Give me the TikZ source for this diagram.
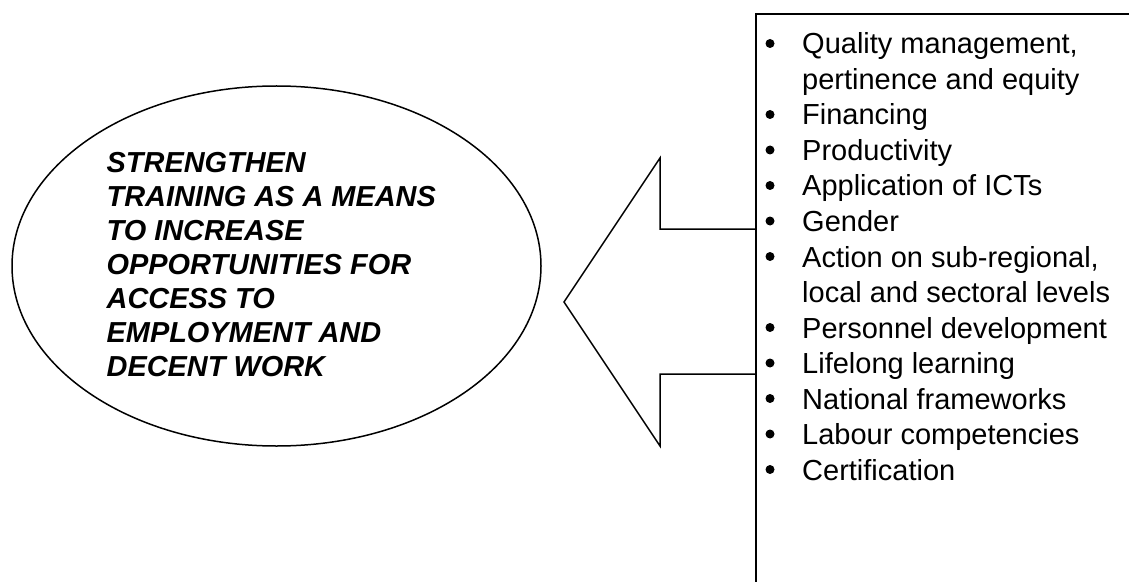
\documentclass[tikz,border=0pt]{standalone}
\usepackage{fontspec}
\setmainfont{Liberation Sans}
\usetikzlibrary{shapes.geometric}
\begin{document}
\begin{tikzpicture}[x=1pt,y=1pt,
  outline/.style={draw=black,line width=1.5pt,line join=miter},
  goaltext/.style={anchor=base west,inner sep=0pt,font=\fontsize{28.9}{34}\selectfont\bfseries\itshape},
  itemtext/.style={anchor=base west,inner sep=0pt,font=\fontsize{29}{35}\selectfont},
  bul/.style={circle,fill=black,inner sep=0pt,minimum size=9pt}]
\useasboundingbox (0,0) rectangle (1129,582);
% goal ellipse
\node[ellipse,outline,minimum width=529pt,minimum height=360pt,inner sep=0pt] (goal) at (276.5,316) {};
\foreach \t [count=\i] in {STRENGTHEN,TRAINING AS A MEANS,TO INCREASE,OPPORTUNITIES FOR,ACCESS TO,EMPLOYMENT AND,DECENT WORK}
  \node[goaltext] (g\i) at (106.5,{582-172.3-34.07*(\i-1)}) {\t};
% frame and arrow
\coordinate (ftop) at (756,568);
\coordinate (fbot) at (756,0);
\coordinate (fright) at (1129,568);
\coordinate (s1) at (756,353);
\coordinate (s2) at (660,353);
\coordinate (h1) at (660,424);
\coordinate (tip) at (564,280);
\coordinate (h2) at (660,136);
\coordinate (s3) at (660,208);
\coordinate (s4) at (756,208);
\draw[outline] (fright) -- (ftop) -- (fbot);
\draw[outline] (s1) -- (s2) -- (h1) -- (tip) -- (h2) -- (s3) -- (s4);
% list
\foreach \b/\t [count=\i] in {1/{Quality management,},0/pertinence and equity,1/Financing,1/Productivity,1/Application of ICTs,1/Gender,1/{Action on sub-regional,},0/local and sectoral levels,1/Personnel development,1/Lifelong learning,1/National frameworks,1/Labour competencies,1/Certification}{
  \node[itemtext] (r\i) at (802,{582-54-35.5*(\i-1)}) {\t};
  \ifnum\b=1 \node[bul] (b\i) at (770,{582-54-35.5*(\i-1)+10.5}) {};\fi
}
\end{tikzpicture}
\end{document}
